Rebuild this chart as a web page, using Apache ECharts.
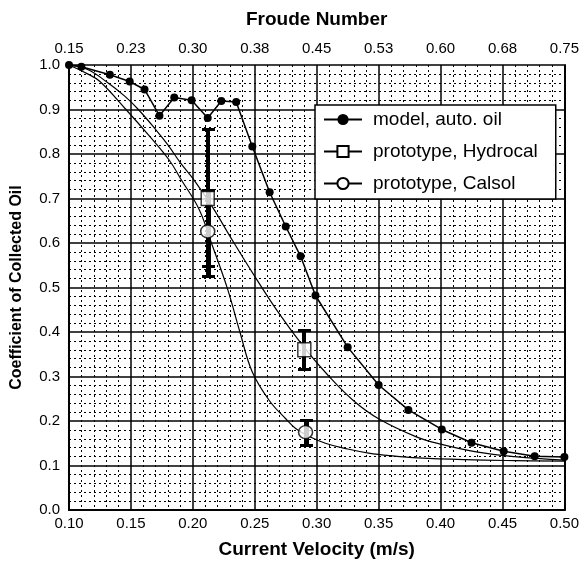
<!DOCTYPE html>
<html style="height: 100%">
  <head>
    <meta charset="utf-8" />
  </head>
  <body style="height: 100%; margin: 0; background: #fff">
    <div id="container" style="width: 582px; height: 564px"></div>

    <script
      type="text/javascript"
      src="https://cdn.jsdelivr.net/npm/echarts@6/dist/echarts.min.js"
    ></script>

    <script type="text/javascript">
      // model, auto. oil (velocity m/s, coefficient)
      var modelV = [0.100, 0.110, 0.133, 0.149, 0.161, 0.173, 0.185, 0.199, 0.212, 0.223, 0.235, 0.248,
                    0.262, 0.275, 0.287, 0.299, 0.325, 0.350, 0.374, 0.401, 0.425, 0.451, 0.476, 0.500];
      var modelC = [1.000, 0.996, 0.978, 0.963, 0.945, 0.886, 0.927, 0.921, 0.881, 0.919, 0.917, 0.817,
                    0.714, 0.637, 0.570, 0.482, 0.366, 0.281, 0.225, 0.181, 0.151, 0.132, 0.121, 0.119];

      // fitted curve, prototype Hydrocal
      var hydroCurveV = [0.100, 0.115, 0.130, 0.145, 0.156, 0.170, 0.180, 0.190, 0.200, 0.216, 0.230,
                         0.250, 0.270, 0.290, 0.310, 0.330, 0.350, 0.380, 0.400, 0.430, 0.460, 0.500];
      var hydroCurveC = [1.000, 0.990, 0.963, 0.930, 0.900, 0.855, 0.820, 0.780, 0.745, 0.680, 0.615,
                         0.525, 0.440, 0.365, 0.300, 0.245, 0.205, 0.165, 0.148, 0.130, 0.120, 0.112];

      // fitted curve, prototype Calsol
      var calCurveV = [0.100, 0.115, 0.125, 0.146, 0.165, 0.181, 0.190, 0.205, 0.215, 0.228, 0.238,
                       0.248, 0.262, 0.275, 0.283, 0.292, 0.307, 0.325, 0.342, 0.360, 0.382, 0.420,
                       0.460, 0.500];
      var calCurveC = [1.000, 0.980, 0.963, 0.900, 0.840, 0.786, 0.745, 0.676, 0.600, 0.497, 0.400,
                       0.310, 0.245, 0.205, 0.183, 0.168, 0.150, 0.137, 0.128, 0.122, 0.117, 0.113,
                       0.111, 0.110];

      // measured points with error bars
      var hydroV = [0.212, 0.290];
      var hydroC = [0.700, 0.360];
      var hydroLow = [0.548, 0.316];
      var hydroHigh = [0.857, 0.405];

      var calsolV = [0.212, 0.291];
      var calsolC = [0.626, 0.175];
      var calsolLow = [0.526, 0.146];
      var calsolHigh = [0.720, 0.203];

      var froudeLabels = ["0.15", "0.23", "0.30", "0.38", "0.45", "0.53", "0.60", "0.68", "0.75"];

      var FONT = "Liberation Sans, Arial, sans-serif";

      function pairs(xs, ys) {
        return xs.map(function (x, i) {
          return [x, ys[i]];
        });
      }
      function bars(xs, lo, hi) {
        return xs.map(function (x, i) {
          return [x, lo[i], hi[i]];
        });
      }

      // error bar: solid stem plus two caps, snapped to whole pixels
      function barRenderer(stem) {
        return function (params, api) {
          var top = api.coord([api.value(0), api.value(2)]);
          var bot = api.coord([api.value(0), api.value(1)]);
          var cx = Math.round(top[0]);
          var y1 = Math.round(top[1]);
          var y2 = Math.round(bot[1]);
          var w = 6;
          var fill = { fill: "#000", stroke: null, opacity: 1 };
          return {
            type: "group",
            children: [
              {
                type: "rect",
                shape: { x: cx - Math.floor(stem / 2), y: y1, width: stem, height: y2 - y1 },
                style: fill,
              },
              { type: "rect", shape: { x: cx - w, y: y1 - 1, width: 2 * w + 1, height: 3 }, style: fill },
              { type: "rect", shape: { x: cx - w, y: y2 - 1, width: 2 * w + 1, height: 3 }, style: fill },
            ],
          };
        };
      }

      var dom = document.getElementById("container");
      var myChart = echarts.init(dom, null, { renderer: "canvas" });

      var axisBase = {
        type: "value",
        axisLine: { show: true, lineStyle: { color: "#000", width: 2 } },
        axisTick: { show: false },
        axisLabel: { color: "#000", fontSize: 15, fontFamily: FONT },
        nameTextStyle: { color: "#000", fontSize: 19, fontWeight: "bold", fontFamily: FONT },
      };

      var option = {
        backgroundColor: "#fff",
        animation: false,
        grid: { left: 69, right: 16, top: 65, bottom: 45 },
        legend: {
          left: 315,
          top: 105,
          orient: "vertical",
          backgroundColor: "#fff",
          borderColor: "#000",
          borderWidth: 1.5,
          padding: [5, 18, 6, 8],
          itemGap: 13,
          itemWidth: 38,
          itemHeight: 14,
          textStyle: { color: "#000", fontSize: 19, fontFamily: FONT, padding: [0, 0, 0, 6] },
          data: ["model, auto. oil", "prototype, Hydrocal", "prototype, Calsol"],
        },
        xAxis: [
          Object.assign({}, axisBase, {
            min: 0.1,
            max: 0.5,
            interval: 0.05,
            name: "Current Velocity (m/s)",
            nameLocation: "middle",
            nameGap: 30,
            axisLabel: Object.assign({}, axisBase.axisLabel, {
              margin: 6,
              formatter: function (v) {
                return v.toFixed(2);
              },
            }),
            splitLine: { show: true, lineStyle: { color: "#000", width: 1.5 } },
            minorTick: { show: false, splitNumber: 5 },
            minorSplitLine: { show: true, lineStyle: { color: "#000", width: 1, type: [2, 3] } },
          }),
          Object.assign({}, axisBase, {
            position: "top",
            min: 0.1,
            max: 0.5,
            interval: 0.05,
            name: "Froude Number",
            nameLocation: "middle",
            nameGap: 36,
            axisLabel: Object.assign({}, axisBase.axisLabel, {
              margin: 9,
              formatter: function (v) {
                return froudeLabels[Math.round((v - 0.1) / 0.05)];
              },
            }),
            splitLine: { show: false },
          }),
        ],
        yAxis: [
          Object.assign({}, axisBase, {
            min: 0,
            max: 1,
            interval: 0.1,
            name: "Coefficient of Collected Oil",
            nameLocation: "middle",
            nameGap: 44,
            nameTextStyle: Object.assign({}, axisBase.nameTextStyle, { fontSize: 16 }),
            axisLabel: Object.assign({}, axisBase.axisLabel, {
              margin: 9,
              formatter: function (v) {
                return v.toFixed(1);
              },
            }),
            splitLine: { show: true, lineStyle: { color: "#000", width: 1.5 } },
            minorTick: { show: false, splitNumber: 5 },
            minorSplitLine: { show: true, lineStyle: { color: "#000", width: 1, type: [2, 3] } },
          }),
          Object.assign({}, axisBase, {
            position: "right",
            min: 0,
            max: 1,
            interval: 0.1,
            axisLabel: { show: false },
            splitLine: { show: false },
          }),
        ],
        series: [
          {
            name: "prototype, Hydrocal",
            type: "line",
            smooth: 0.4,
            data: pairs(hydroCurveV, hydroCurveC),
            symbol: "rect",
            symbolSize: 12,
            showSymbol: false,
            itemStyle: { color: "#fff", borderColor: "#000", borderWidth: 1.5 },
            lineStyle: { color: "#000", width: 1.2 },
            z: 3,
          },
          {
            name: "prototype, Calsol",
            type: "line",
            smooth: 0.4,
            data: pairs(calCurveV, calCurveC),
            symbol: "circle",
            symbolSize: 12,
            showSymbol: false,
            itemStyle: { color: "#fff", borderColor: "#000", borderWidth: 1.5 },
            lineStyle: { color: "#000", width: 1.2 },
            z: 3,
          },
          {
            type: "custom",
            renderItem: barRenderer(4),
            data: bars(hydroV, hydroLow, hydroHigh),
            encode: { x: 0, y: [1, 2] },
            clip: false,
            z: 7,
          },
          {
            type: "custom",
            renderItem: barRenderer(5),
            data: bars(calsolV, calsolLow, calsolHigh),
            encode: { x: 0, y: [1, 2] },
            clip: false,
            z: 7,
          },
          {
            name: "prototype, Hydrocal",
            type: "scatter",
            data: pairs(hydroV, hydroC),
            symbol: "rect",
            symbolSize: [13, 14],
            itemStyle: { color: "#fff", borderColor: "#000", borderWidth: 1.5 },
            z: 8,
          },
          {
            name: "prototype, Calsol",
            type: "scatter",
            data: pairs(calsolV, calsolC),
            symbol: "circle",
            symbolSize: [14, 13],
            itemStyle: { color: "#fff", borderColor: "#000", borderWidth: 1.5 },
            z: 8,
          },
          {
            name: "model, auto. oil",
            type: "line",
            data: pairs(modelV, modelC),
            symbol: "circle",
            symbolSize: 8,
            itemStyle: { color: "#000" },
            lineStyle: { color: "#000", width: 1.5 },
            z: 6,
          },
        ],
      };

      option && myChart.setOption(option);
    </script>
  </body>
</html>
